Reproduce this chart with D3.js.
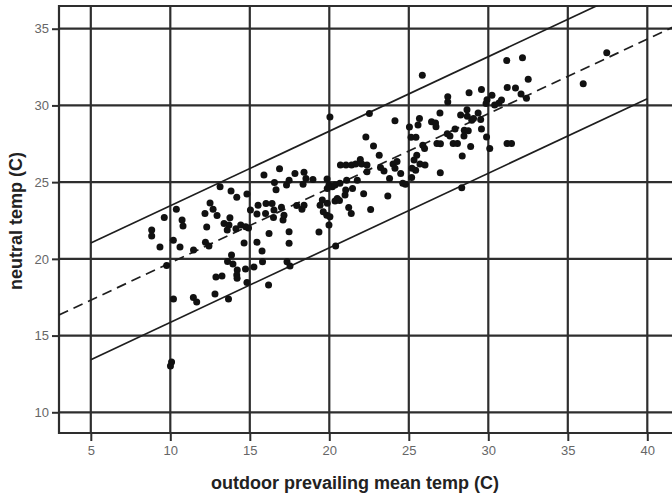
<!DOCTYPE html>
<html>
<head>
<meta charset="utf-8">
<script src="https://cdn.jsdelivr.net/npm/d3@7"></script>
<style>
  body { margin: 0; background: #fff; }
  svg { display: block; }
  .tick text { fill: #666; font-family: "Liberation Sans", Arial, sans-serif; font-size: 13px; }
  .axis-title { font-family: "Liberation Sans", Arial, sans-serif; font-weight: bold; fill: #222; font-size: 18px; }
</style>
</head>
<body>
<div id="chart"></div>
<script>
// outdoor prevailing mean temp (C)
var outdoorTemp = [
  8.83, 8.83, 9.35, 9.62, 9.77, 10.19, 10.38, 10.61, 10.74, 10.80, 10.20, 10.08, 10.01, 11.45, 11.66, 11.46,
  12.18, 12.50, 12.69, 12.94, 12.29, 12.21, 12.43, 12.81, 13.13, 13.66, 13.82, 14.18, 14.82, 13.75, 13.38, 13.69,
  13.58, 14.13, 14.43, 14.74, 14.92, 15.04, 15.45, 15.52, 15.99, 16.02, 16.40, 16.52, 16.49, 16.99, 17.09, 17.15,
  14.64, 15.45, 15.77, 13.85, 13.94, 13.60, 14.21, 14.18, 14.20, 12.87, 13.25, 14.73, 15.26, 15.80, 14.82, 16.18,
  16.21, 17.47, 17.47, 17.34, 17.53, 15.89, 16.55, 16.65, 16.87, 17.31, 17.47, 17.84, 17.95, 18.28, 18.41, 18.41,
  18.53, 18.35, 18.97, 19.42, 19.62, 19.84, 19.56, 20.04, 19.98, 19.35, 19.86, 19.98, 19.87, 20.19, 20.36, 20.67,
  21.09, 21.03, 21.46, 21.76, 20.99, 20.36, 20.50, 20.64, 19.87, 21.22, 21.38, 20.40, 20.70, 21.05, 21.40, 21.66,
  21.95, 22.04, 22.37, 22.37, 22.16, 22.60, 20.04, 22.52, 22.30, 22.78, 23.14, 23.22, 23.44, 23.79, 23.68, 24.01,
  24.26, 24.13, 24.49, 24.62, 24.79, 25.20, 25.43, 25.33, 25.18, 25.50, 25.70, 26.02, 26.98, 28.33, 24.13, 25.04,
  25.67, 25.58, 25.14, 25.45, 25.88, 25.99, 25.85, 26.43, 26.68, 26.71, 26.96, 26.77, 26.99, 27.42, 27.59, 27.45,
  27.45, 27.79, 28.06, 27.91, 28.36, 28.49, 28.74, 28.47, 28.26, 28.66, 28.68, 28.96, 29.07, 29.36, 29.52, 29.57,
  28.89, 29.89, 30.09, 28.79, 29.57, 29.92, 29.86, 30.23, 30.83, 30.67, 30.40, 31.16, 32.15, 32.51, 31.19, 31.71,
  32.06, 32.40, 31.18, 31.46, 35.97, 37.45
];

// neutral temp (C)
var neutralTemp = [
  21.88, 21.49, 20.77, 22.69, 19.56, 21.22, 23.24, 20.77, 22.53, 22.14, 17.38, 13.28, 13.02, 17.48, 17.19, 20.57,
  22.96, 23.64, 23.24, 22.82, 22.07, 21.09, 20.83, 17.71, 24.70, 17.38, 24.42, 24.01, 24.22, 22.68, 22.31, 22.20,
  21.88, 21.97, 22.20, 22.09, 22.01, 23.18, 22.92, 23.50, 22.96, 23.60, 23.60, 23.18, 22.69, 23.37, 22.53, 22.85,
  21.03, 21.09, 20.51, 20.25, 19.66, 19.82, 19.27, 18.94, 18.73, 18.81, 18.88, 19.34, 19.47, 19.81, 18.46, 18.29,
  21.66, 21.77, 21.01, 19.81, 19.53, 25.46, 24.97, 24.51, 25.87, 24.81, 25.13, 25.57, 23.47, 23.24, 23.50, 25.65,
  25.24, 24.87, 25.17, 23.50, 23.07, 22.85, 23.83, 22.74, 22.20, 21.75, 25.20, 24.81, 24.59, 24.70, 24.81, 24.92,
  25.13, 24.48, 24.59, 25.13, 24.16, 23.77, 23.94, 23.80, 23.62, 23.34, 22.96, 20.83, 26.11, 26.11, 26.11, 26.18,
  26.47, 26.18, 26.11, 25.67, 24.24, 23.22, 29.24, 29.48, 27.95, 27.35, 26.76, 25.95, 25.72, 25.24, 24.09, 26.18,
  26.34, 25.90, 25.57, 24.92, 24.87, 25.90, 25.78, 26.44, 25.31, 26.76, 26.18, 26.11, 25.61, 24.63, 29.00, 28.59,
  29.15, 28.72, 27.93, 27.93, 27.41, 27.20, 31.97, 28.93, 28.85, 28.61, 29.51, 27.52, 27.50, 28.15, 28.00, 30.56,
  30.23, 27.52, 27.52, 28.46, 26.71, 28.39, 28.35, 28.00, 29.37, 29.71, 29.29, 29.04, 29.15, 29.50, 29.09, 28.47,
  27.33, 27.95, 27.20, 30.83, 31.03, 30.37, 30.13, 30.67, 30.35, 30.15, 30.02, 32.92, 33.11, 31.71, 31.17, 31.13,
  30.74, 30.46, 27.52, 27.52, 31.41, 33.44
];

var xTicks = [5, 10, 15, 20, 25, 30, 35, 40];
var yTicks = [10, 15, 20, 25, 30, 35];

// regression line and the two limit lines
var fitSlope = 0.486;
var fitIntercept = 14.88;
var upperIntercept = 18.6;
var lowerIntercept = 11.0;
var fitSpan = [3, 42];
var limitSpan = [5, 40];

(function() {
  var width = 672, height = 496;
  var marginLeft = 59, marginTop = 6, plotBottom = 433;

  var svg = d3.select("#chart").append("svg")
      .attr("width", width)
      .attr("height", height);

  var x = d3.scaleLinear().domain([3, 42]).range([marginLeft, marginLeft + 39 * 15.9]);
  var y = d3.scaleLinear().domain([8.65, 36.48]).range([plotBottom, marginTop]);

  svg.append("clipPath").attr("id", "plot-clip")
    .append("rect")
      .attr("x", marginLeft).attr("y", marginTop)
      .attr("width", width - marginLeft).attr("height", plotBottom - marginTop);

  // grid
  var grid = svg.append("g").attr("stroke", "#2e2e2e").attr("stroke-width", 2.2);
  grid.selectAll(".vgrid")
    .data(xTicks)
    .enter().append("line")
      .attr("class", "vgrid")
      .attr("x1", function(d) { return x(d); })
      .attr("x2", function(d) { return x(d); })
      .attr("y1", marginTop)
      .attr("y2", plotBottom);
  grid.selectAll(".hgrid")
    .data(yTicks)
    .enter().append("line")
      .attr("class", "hgrid")
      .attr("x1", marginLeft)
      .attr("x2", width)
      .attr("y1", function(d) { return y(d); })
      .attr("y2", function(d) { return y(d); });

  // frame (right side is cut off by the picture)
  svg.append("path")
    .attr("d", "M" + width + "," + marginTop + "H" + marginLeft + "V" + plotBottom + "H" + width)
    .attr("fill", "none")
    .attr("stroke", "#2e2e2e")
    .attr("stroke-width", 2.2);

  // axes
  var xAxis = svg.append("g")
    .attr("transform", "translate(0," + plotBottom + ")")
    .call(d3.axisBottom(x).tickValues(xTicks).tickSize(8).tickPadding(5));
  var yAxis = svg.append("g")
    .attr("transform", "translate(" + marginLeft + ",0)")
    .call(d3.axisLeft(y).tickValues(yTicks).tickSize(7).tickPadding(3));
  [xAxis, yAxis].forEach(function(a) {
    a.select(".domain").remove();
    a.selectAll(".tick line").attr("stroke", "#2e2e2e").attr("stroke-width", 2);
  });

  // lines
  var plot = svg.append("g").attr("clip-path", "url(#plot-clip)");
  var line = d3.line()
    .x(function(d) { return x(d[0]); })
    .y(function(d) { return y(d[1]); });

  function linePoints(span, intercept) {
    return span.map(function(v) { return [v, intercept + fitSlope * v]; });
  }

  plot.append("path")
    .attr("d", line(linePoints(fitSpan, fitIntercept)))
    .attr("fill", "none")
    .attr("stroke", "#1e1e1e")
    .attr("stroke-width", 1.7)
    .attr("stroke-dasharray", "10,6");

  [upperIntercept, lowerIntercept].forEach(function(b) {
    plot.append("path")
      .attr("d", line(linePoints(limitSpan, b)))
      .attr("fill", "none")
      .attr("stroke", "#1e1e1e")
      .attr("stroke-width", 1.7);
  });

  // points
  plot.selectAll(".pt")
    .data(d3.range(outdoorTemp.length))
    .enter().append("circle")
      .attr("class", "pt")
      .attr("cx", function(i) { return x(outdoorTemp[i]); })
      .attr("cy", function(i) { return y(neutralTemp[i]); })
      .attr("r", 3.5)
      .attr("fill", "#111");

  // titles
  svg.append("text")
    .attr("class", "axis-title")
    .attr("x", 355)
    .attr("y", 489)
    .attr("text-anchor", "middle")
    .text("outdoor prevailing mean temp (C)");

  svg.append("text")
    .attr("class", "axis-title")
    .attr("transform", "translate(22,221) rotate(-90)")
    .attr("text-anchor", "middle")
    .text("neutral temp (C)");
})();
</script>
</body>
</html>
